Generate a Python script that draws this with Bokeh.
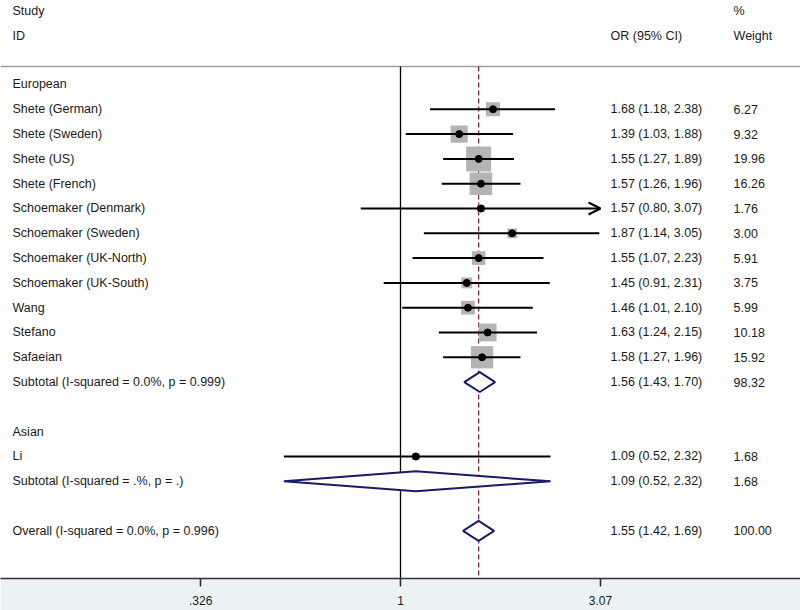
import math
from bokeh.plotting import figure
from bokeh.models import Range1d, LinearAxis, FixedTicker, ColumnDataSource, Arrow, OpenHead
from bokeh.core.properties import value
from bokeh.embed import file_html
from bokeh.resources import INLINE

# ---------------- data ----------------
eu_studies = ["Shete (German)", "Shete (Sweden)", "Shete (US)", "Shete (French)",
              "Schoemaker (Denmark)", "Schoemaker (Sweden)", "Schoemaker (UK-North)",
              "Schoemaker (UK-South)", "Wang", "Stefano", "Safaeian"]
eu_or = [1.68, 1.39, 1.55, 1.57, 1.57, 1.87, 1.55, 1.45, 1.46, 1.63, 1.58]
eu_lo = [1.18, 1.03, 1.27, 1.26, 0.80, 1.14, 1.07, 0.91, 1.01, 1.24, 1.27]
eu_hi = [2.38, 1.88, 1.89, 1.96, 3.07, 3.05, 2.23, 2.31, 2.10, 2.15, 1.96]
eu_w = [6.27, 9.32, 19.96, 16.26, 1.76, 3.00, 5.91, 3.75, 5.99, 10.18, 15.92]
eu_sub = (1.56, 1.43, 1.70, 98.32)
eu_sub_label = "Subtotal  (I-squared = 0.0%, p = 0.999)"

as_studies = ["Li"]
as_or = [1.09]
as_lo = [0.52]
as_hi = [2.32]
as_w = [1.68]
as_sub = (1.09, 0.52, 2.32, 1.68)
as_sub_label = "Subtotal  (I-squared = .%, p = .)"

overall = (1.55, 1.42, 1.69, 100.00)
overall_label = "Overall  (I-squared = 0.0%, p = 0.996)"

tick_vals = [0.326, 1.0, 3.07]
tick_labels = [".326", "1", "3.07"]

# ---------------- layout ----------------
W, H = 800, 610
FONT = value("Liberation Sans")
FS = "12.5px"
TXT = "#1a1a1a"
NAVY = "#1a1a66"
GRAY = "#b4b4b4"
MAROON = "#8b2332"

XMIN, XMAX = -2.2434, 2.2434
x_lab, x_or, x_w = -2.176, 1.178, 1.868
line_r = -0.73
r_top, r_bot = -3.387, 19.92

p = figure(width=W, height=H, output_backend="svg", toolbar_location=None,
           x_range=Range1d(XMIN, XMAX), y_range=Range1d(r_bot, r_top),
           x_axis_type=None, y_axis_type=None,
           min_border_left=0, min_border_right=0, min_border_top=0, min_border_bottom=32,
           border_fill_color="#eaf2f3", background_fill_color="white",
           outline_line_color=None)
p.grid.visible = False

rows_lab, rows_y = [], []
study_rows = []   # (y, or, lo, hi, w)
sub_rows = []     # (y, est, lo, hi)
or_txt, or_y, w_txt, w_y = [], [], [], []

r = 0
for grp, names, ors, los, his, ws, sub, sublab in [
        ("European", eu_studies, eu_or, eu_lo, eu_hi, eu_w, eu_sub, eu_sub_label),
        ("Asian", as_studies, as_or, as_lo, as_hi, as_w, as_sub, as_sub_label)]:
    rows_lab.append(grp); rows_y.append(r); r += 1
    for n, o, lo, hi, w in zip(names, ors, los, his, ws):
        rows_lab.append(n); rows_y.append(r)
        study_rows.append((r, o, lo, hi, w))
        or_txt.append(f"{o:.2f} ({lo:.2f}, {hi:.2f})"); or_y.append(r)
        w_txt.append(f"{w:.2f}"); w_y.append(r)
        r += 1
    rows_lab.append(sublab); rows_y.append(r)
    sub_rows.append((r,) + sub[:3])
    or_txt.append(f"{sub[0]:.2f} ({sub[1]:.2f}, {sub[2]:.2f})"); or_y.append(r)
    w_txt.append(f"{sub[3]:.2f}"); w_y.append(r)
    r += 2
rows_lab.append(overall_label); rows_y.append(r)
sub_rows.append((r,) + overall[:3])
or_txt.append(f"{overall[0]:.2f} ({overall[1]:.2f}, {overall[2]:.2f})"); or_y.append(r)
w_txt.append(f"{overall[3]:.2f}"); w_y.append(r)

L = math.log
xclip = L(tick_vals[-1])

# header line
p.segment(x0=[XMIN], y0=[line_r], x1=[XMAX], y1=[line_r], line_color="#a0a0a0", line_width=1.5)
# null line at OR=1
p.segment(x0=[L(1.0)], y0=[line_r], x1=[L(1.0)], y1=[r_bot], line_color="black", line_width=1.3)
# overall dashed line
p.segment(x0=[L(overall[0])], y0=[line_r], x1=[L(overall[0])], y1=[r_bot],
          line_color=MAROON, line_width=1.3, line_dash="5 3")

# weight squares
sq = ColumnDataSource(dict(x=[L(s[1]) for s in study_rows], y=[s[0] for s in study_rows],
                           size=[5.6 * math.sqrt(s[4]) for s in study_rows]))
p.scatter("x", "y", size="size", marker="square", source=sq, fill_color=GRAY, line_color=None)

# CI lines
normal = [s for s in study_rows if s[3] < tick_vals[-1]]
clipped = [s for s in study_rows if s[3] >= tick_vals[-1]]
ci = ColumnDataSource(dict(x0=[L(s[2]) for s in normal], x1=[L(s[3]) for s in normal],
                           y=[s[0] for s in normal]))
p.segment(x0="x0", y0="y", x1="x1", y1="y", source=ci, line_color="black", line_width=2)
if clipped:
    ac = ColumnDataSource(dict(x0=[L(s[2]) for s in clipped], x1=[min(L(s[3]), xclip) for s in clipped],
                               y=[s[0] for s in clipped]))
    p.add_layout(Arrow(end=OpenHead(size=12, line_width=2, line_color="black"),
                       x_start="x0", y_start="y", x_end="x1", y_end="y",
                       source=ac, line_color="black", line_width=2))

# point estimates
pt = ColumnDataSource(dict(x=[L(s[1]) for s in study_rows], y=[s[0] for s in study_rows]))
p.scatter("x", "y", source=pt, marker="circle", size=7, fill_color="black", line_color="black")

# diamonds
hh = 0.40
xs, ys = [], []
for (y, e, lo, hi) in sub_rows:
    xs.append([L(lo), L(e), L(hi), L(e)])
    ys.append([y, y - hh, y, y + hh])
p.patches(xs, ys, fill_color="white", line_color=NAVY, line_width=2)

def txt(xv, yv, labels):
    src = ColumnDataSource(dict(x=[xv] * len(labels), y=yv, t=labels))
    p.text("x", "y", text="t", source=src, text_font=FONT, text_font_size=FS,
           text_color=TXT, text_baseline="middle", text_align="left")

txt(x_lab, rows_y, rows_lab)
txt(x_or, or_y, or_txt)
txt(x_w, w_y, w_txt)
txt(x_lab, [-2.95, -1.97], ["Study", "ID"])
txt(x_or, [-1.97], ["OR (95% CI)"])
txt(x_w, [-2.95, -1.97], ["%", "Weight"])

ax = LinearAxis(ticker=FixedTicker(ticks=[L(v) for v in tick_vals]),
                major_label_overrides={L(v): t for v, t in zip(tick_vals, tick_labels)},
                axis_line_color="#333333", axis_line_width=1.6,
                major_tick_line_color="#333333", major_tick_line_width=1.6,
                major_tick_in=0, major_tick_out=8, minor_tick_line_color=None,
                major_label_text_font="Liberation Sans", major_label_text_font_size="12px",
                major_label_text_color=TXT, major_label_standoff=9)
p.add_layout(ax, "below")

open("out.html", "w").write(file_html(p, INLINE))
